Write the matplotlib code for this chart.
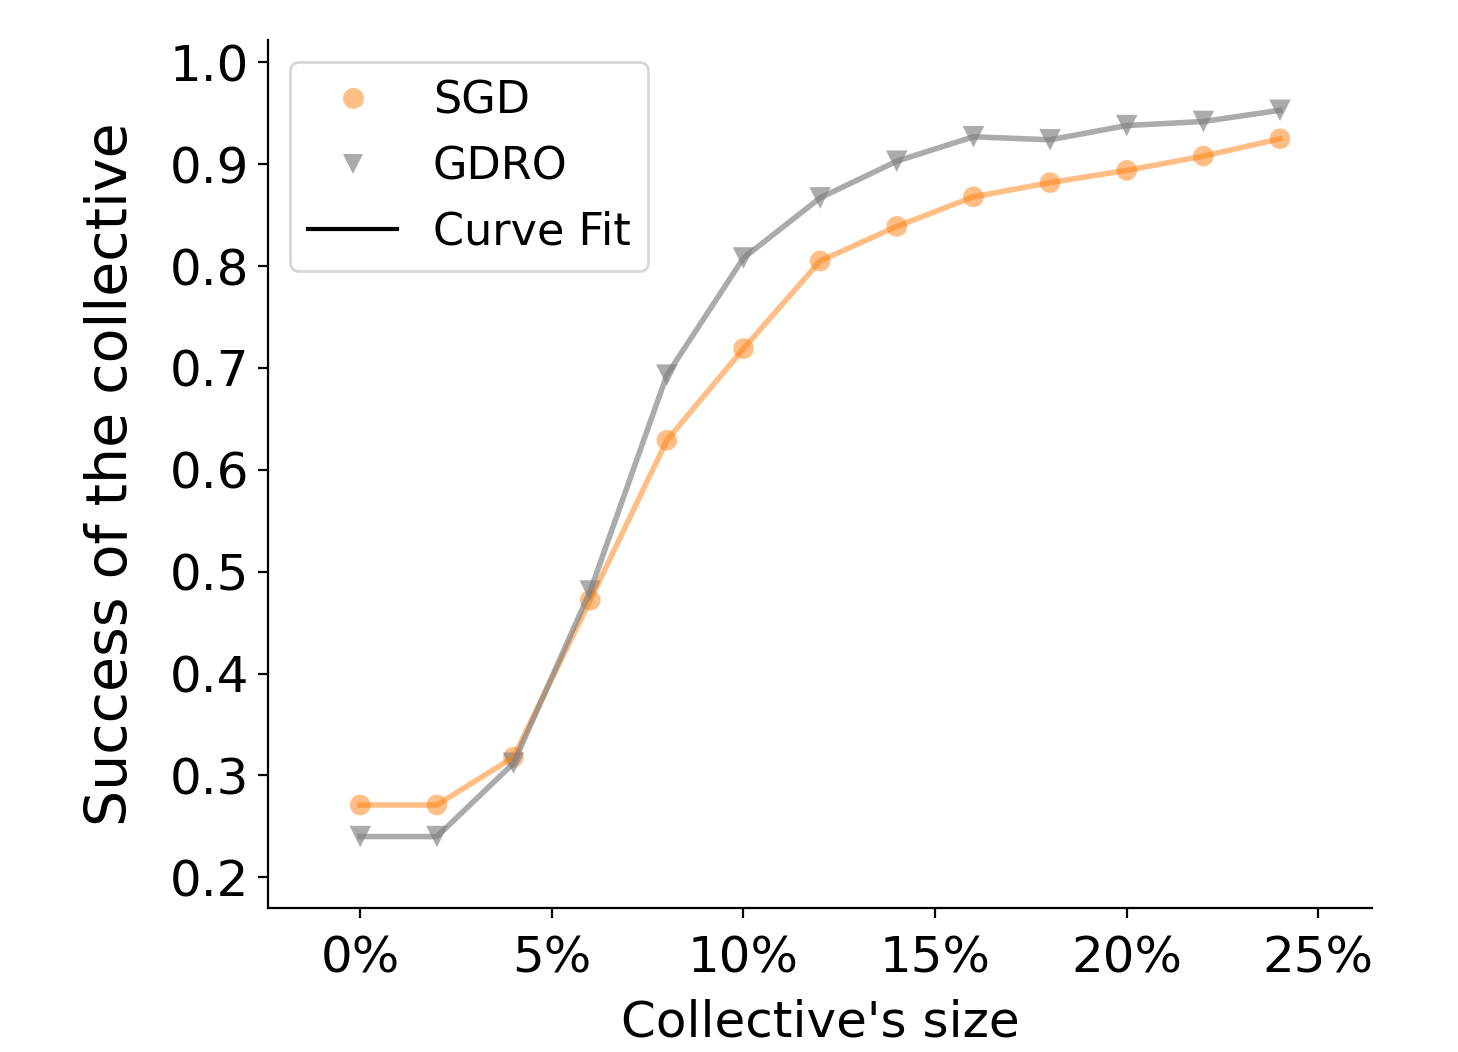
import matplotlib.pyplot as plt
from matplotlib.lines import Line2D

# collective size in percent
sizes = [0, 2, 4, 6, 8, 10, 12, 14, 16, 18, 20, 22, 24]
sgd = [0.271, 0.271, 0.318, 0.472, 0.629, 0.719, 0.805, 0.839, 0.868, 0.882, 0.894, 0.908, 0.925]
gdro = [0.240, 0.240, 0.312, 0.481, 0.693, 0.808, 0.867, 0.903, 0.927, 0.924, 0.938, 0.942, 0.953]
xticks = [0, 5, 10, 15, 20, 25]
xticklabels = ['0%', '5%', '10%', '15%', '20%', '25%']
yticks = [0.2, 0.3, 0.4, 0.5, 0.6, 0.7, 0.8, 0.9, 1.0]

fig = plt.figure(figsize=(7.29, 5.26), dpi=200)
ax = fig.add_axes([0.184, 0.137, 0.757, 0.825])

ax.plot(sizes, sgd, color='tab:orange', alpha=0.5, lw=2)
ax.plot(sizes, gdro, color='tab:gray', alpha=0.65, lw=2)
ax.scatter(sizes, sgd, color='tab:orange', alpha=0.5, s=55, marker='o', edgecolors='none')
ax.scatter(sizes, gdro, color='tab:gray', alpha=0.65, s=60, marker='v', edgecolors='none')

ax.set_xlim(-2.4, 26.4)
ax.set_ylim(0.17, 1.022)
ax.set_xticks(xticks)
ax.set_xticklabels(xticklabels)
ax.set_yticks(yticks)
ax.tick_params(labelsize=18)
ax.tick_params(axis='x', pad=6)
ax.spines['top'].set_visible(False)
ax.spines['right'].set_visible(False)

ax.set_xlabel("Collective's size", fontsize=18, labelpad=6)
ax.set_ylabel('Success of the collective', fontsize=20.5, labelpad=11)

handles = [
    Line2D([], [], ls='none', marker='o', color='tab:orange', alpha=0.5, markersize=7.5, markeredgewidth=0),
    Line2D([], [], ls='none', marker='v', color='tab:gray', alpha=0.65, markersize=7.5, markeredgewidth=0),
    Line2D([], [], color='black', lw=1.5),
]
ax.legend(handles, ['SGD', 'GDRO', 'Curve Fit'], loc='upper left', fontsize=16)

plt.savefig('out.png')
